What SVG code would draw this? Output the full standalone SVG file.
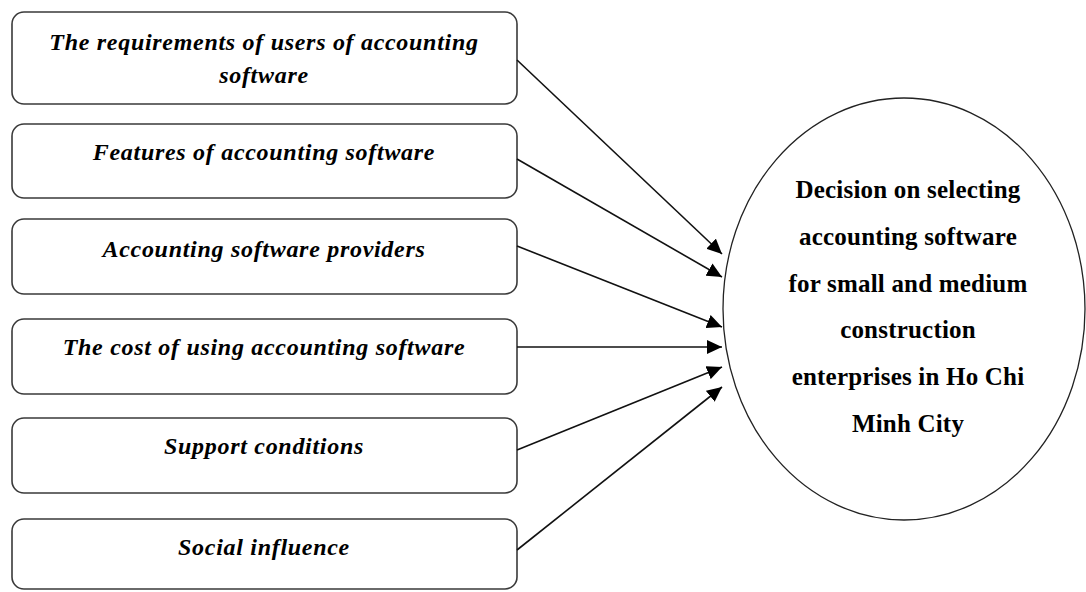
<svg xmlns="http://www.w3.org/2000/svg" width="1086" height="592" viewBox="0 0 1086 592">
  <style>
    .box { fill: #fff; stroke: #3a3a3a; stroke-width: 1.6; }
    .lbl { font-family: "Liberation Serif", "Times New Roman", serif; font-style: italic; font-weight: bold; font-size: 24px; letter-spacing: 0.7px; fill: #000; text-anchor: middle; }
    .goal { fill: #fff; stroke: #222; stroke-width: 1.3; }
    .goal-lbl { font-family: "Liberation Serif", "Times New Roman", serif; font-weight: bold; font-size: 25px; letter-spacing: 0.2px; fill: #000; text-anchor: middle; }
    .edge { stroke: #111; stroke-width: 1.6; fill: none; marker-end: url(#head); }
  </style>
  <defs>
    <marker id="head" markerUnits="userSpaceOnUse" markerWidth="16" markerHeight="14" refX="15" refY="7" orient="auto">
      <path d="M0,0 L15,7 L0,14 Z" fill="#000"/>
    </marker>
  </defs>
  <rect width="1086" height="592" fill="#fff"/>

  <g id="factor-requirements">
    <rect class="box" x="12" y="12" width="505" height="92" rx="12"/>
    <text class="lbl" x="264" y="50">The requirements of users of accounting</text>
    <text class="lbl" x="264" y="83">software</text>
  </g>
  <g id="factor-features">
    <rect class="box" x="12" y="124" width="505" height="74" rx="12"/>
    <text class="lbl" x="264" y="160">Features of accounting software</text>
  </g>
  <g id="factor-providers">
    <rect class="box" x="12" y="219" width="505" height="75" rx="12"/>
    <text class="lbl" x="264" y="257">Accounting software providers</text>
  </g>
  <g id="factor-cost">
    <rect class="box" x="12" y="319" width="505" height="75" rx="12"/>
    <text class="lbl" x="264" y="355">The cost of using accounting software</text>
  </g>
  <g id="factor-support">
    <rect class="box" x="12" y="418" width="505" height="75" rx="12"/>
    <text class="lbl" x="264" y="454">Support conditions</text>
  </g>
  <g id="factor-social">
    <rect class="box" x="12" y="519" width="505" height="70" rx="12"/>
    <text class="lbl" x="264" y="555">Social influence</text>
  </g>

  <g id="decision">
    <ellipse class="goal" cx="904" cy="309" rx="181" ry="211"/>
    <text class="goal-lbl" x="908" y="198">Decision on selecting</text>
    <text class="goal-lbl" x="908" y="245">accounting software</text>
    <text class="goal-lbl" x="908" y="292">for small and medium</text>
    <text class="goal-lbl" x="908" y="338">construction</text>
    <text class="goal-lbl" x="908" y="385">enterprises in Ho Chi</text>
    <text class="goal-lbl" x="908" y="432">Minh City</text>
  </g>

  <g id="connectors">
    <line class="edge" x1="517" y1="60" x2="722" y2="254"/>
    <line class="edge" x1="517" y1="159" x2="722" y2="277"/>
    <line class="edge" x1="517" y1="246" x2="722" y2="327"/>
    <line class="edge" x1="517" y1="347" x2="722" y2="347"/>
    <line class="edge" x1="517" y1="450" x2="722" y2="367"/>
    <line class="edge" x1="517" y1="550" x2="722" y2="387"/>
  </g>
</svg>
